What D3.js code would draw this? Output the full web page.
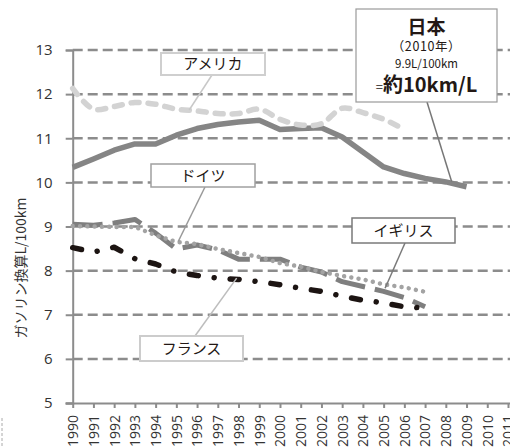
<!DOCTYPE html>
<html>
<head>
<meta charset="utf-8">
<script src="https://cdn.jsdelivr.net/npm/d3@7/dist/d3.min.js"></script>
<style>
  html, body { margin: 0; padding: 0; background: #fff; }
  svg { display: block; }
  .jp { font-family: "Noto Sans CJK JP", "Noto Sans", sans-serif; }
  .num { font-family: "Open Sans", "Liberation Sans", sans-serif; }
</style>
</head>
<body>
<script>
// Fuel consumption (gasoline-equivalent L/100km), 1990-2011
const years = d3.range(1990, 2012);
const yTicks = [5, 6, 7, 8, 9, 10, 11, 12, 13];

const japan   = [10.34, 10.53, 10.73, 10.87, 10.87, 11.07, 11.22, 11.31, 11.37, 11.41,
                 11.20, 11.22, 11.24, 11.03, 10.69, 10.35, 10.20, 10.09, 10.01, 9.9];
const america = [12.13, 11.66, 11.72, 11.81, 11.77, 11.66, 11.62, 11.56, 11.56, 11.66,
                 11.43, 11.30, 11.33, 11.68, 11.58, 11.43, 11.20];
const germany = [9.05, 9.03, 9.08, 9.16, 8.85, 8.49, 8.58, 8.47, 8.26, 8.26,
                 8.26, 8.08, 7.97, 7.75, 7.64, 7.53, 7.39, 7.18];
const uk      = [9.01, 9.00, 8.99, 8.99, 8.80, 8.65, 8.60, 8.49, 8.40, 8.31,
                 8.17, 8.09, 7.97, 7.88, 7.80, 7.69, 7.62, 7.52];
const france  = [8.52, 8.42, 8.53, 8.27, 8.15, 7.97, 7.89, 7.83, 7.80, 7.75,
                 7.68, 7.60, 7.53, 7.42, 7.33, 7.27, 7.18, 7.15];

const W = 510, H = 448;
const plot = { left: 72.7, right: 508, top: 50, bottom: 403 };

const svg = d3.select("body").append("svg").attr("width", W).attr("height", H);

const x = d3.scaleLinear().domain([1990, 2011]).range([plot.left, plot.right]);
const y = d3.scaleLinear().domain([5, 13]).range([plot.bottom, plot.top]);

const gridColor = "#8c8c8c";

// dashed horizontal gridlines
svg.append("g").selectAll("line")
  .data(yTicks.filter(v => v > 5))
  .join("line")
  .attr("x1", plot.left).attr("x2", W)
  .attr("y1", d => y(d)).attr("y2", d => y(d))
  .attr("stroke", gridColor).attr("stroke-width", 2.5)
  .attr("stroke-dasharray", "10 5");

// y axis
const yAxis = svg.append("g")
  .attr("transform", `translate(${plot.left},0)`)
  .call(d3.axisLeft(y).tickValues(yTicks).tickSize(7).tickPadding(13).tickFormat(d3.format("d")));
yAxis.select(".domain").attr("stroke", gridColor).attr("stroke-width", 2);
yAxis.selectAll(".tick line").attr("stroke", gridColor).attr("stroke-width", 2);
yAxis.selectAll("text").attr("class", "num").attr("font-size", 15).attr("fill", "#333");

// x axis
const xAxis = svg.append("g")
  .attr("transform", `translate(0,${plot.bottom})`)
  .call(d3.axisBottom(x).tickValues(years).tickSize(5).tickFormat(d3.format("d")));
xAxis.select(".domain").attr("stroke", gridColor).attr("stroke-width", 2)
  .attr("d", `M${plot.left - 7},0.5H${W}`);
xAxis.selectAll(".tick line").attr("stroke", gridColor).attr("stroke-width", 2);
xAxis.selectAll("text")
  .attr("class", "num").attr("font-size", 14).attr("fill", "#333")
  .attr("text-anchor", "end")
  .attr("transform", "rotate(-90)")
  .attr("x", -12).attr("y", 0).attr("dy", "0.35em");

// y axis title
svg.append("text")
  .attr("class", "jp")
  .attr("transform", "translate(21,268) rotate(-90)")
  .attr("text-anchor", "middle").attr("dy", "0.35em")
  .attr("font-size", 14).attr("fill", "#333")
  .text("ガソリン換算L/100km");

// small dashed edge at the lower left
svg.append("line")
  .attr("x1", 2).attr("x2", 2).attr("y1", 418).attr("y2", H)
  .attr("stroke", "#aaa").attr("stroke-width", 1).attr("stroke-dasharray", "3 2");

// series lines
const series = [
  { name: "日本",    values: japan,   color: "#858585", width: 5.5, dash: null,           cap: "butt",  curve: d3.curveLinear },
  { name: "アメリカ", values: america, color: "#d3d3d3", width: 5.5, dash: "8 9",          cap: "round", curve: d3.curveCatmullRom.alpha(0.5) },
  { name: "ドイツ",  values: germany, color: "#7f7f7f", width: 5,   dash: "30 10",        cap: "butt",  curve: d3.curveLinear },
  { name: "イギリス", values: uk,      color: "#a3a3a3", width: 4.5, dash: "0.01 7.3",     cap: "round", curve: d3.curveLinear },
  { name: "フランス", values: france,  color: "#1c1412", width: 5.5, dash: "9 16 0.01 16", cap: "round", curve: d3.curveLinear }
];

series.forEach(s => {
  const pts = s.values.map((v, i) => [years[i], v]);
  const line = d3.line().x(d => x(d[0])).y(d => y(d[1])).curve(s.curve);
  svg.append("path")
    .datum(pts)
    .attr("d", line)
    .attr("fill", "none")
    .attr("stroke", s.color)
    .attr("stroke-width", s.width)
    .attr("stroke-linecap", s.cap)
    .attr("stroke-linejoin", "round")
    .attr("stroke-dasharray", s.dash);
});

// callout labels: box layout in pixels, leader target in data units
const callouts = [
  { text: "アメリカ", box: [161, 53, 104, 22], from: [212, 75],  to: [1995.62, 11.64], border: "#cfcfcf", bw: 2,   leader: "#c8c8c8" },
  { text: "ドイツ",  box: [151, 164, 104, 23], from: [205, 187], to: [1995.09, 8.66],  border: "#a0a0a0", bw: 1.5, leader: "#9a9a9a" },
  { text: "フランス", box: [140, 336, 103, 25], from: [195, 336], to: [1997.91, 7.83],  border: "#cccccc", bw: 2,   leader: "#bdbdbd" },
  { text: "イギリス", box: [352, 218, 103, 25], from: [405, 243], to: [2005.07, 7.60],  border: "#7a7a7a", bw: 1.5, leader: "#7a7a7a" }
];

callouts.forEach(c => {
  svg.append("line")
    .attr("x1", c.from[0]).attr("y1", c.from[1])
    .attr("x2", x(c.to[0])).attr("y2", y(c.to[1]))
    .attr("stroke", c.leader).attr("stroke-width", 1.5);
  svg.append("rect")
    .attr("x", c.box[0]).attr("y", c.box[1])
    .attr("width", c.box[2]).attr("height", c.box[3])
    .attr("fill", "#fff").attr("stroke", c.border).attr("stroke-width", c.bw);
  svg.append("text")
    .attr("class", "jp")
    .attr("x", c.box[0] + c.box[2] / 2).attr("y", c.box[1] + c.box[3] / 2)
    .attr("text-anchor", "middle").attr("dy", "0.36em")
    .attr("font-size", 15).attr("fill", "#231815")
    .text(c.text);
});

// Japan callout
const jbox = [356, 9, 141, 93];
svg.append("line")
  .attr("x1", 427).attr("y1", jbox[1] + jbox[3])
  .attr("x2", x(2008.28)).attr("y2", y(10.02))
  .attr("stroke", "#777").attr("stroke-width", 1.5);
svg.append("rect")
  .attr("x", jbox[0]).attr("y", jbox[1]).attr("width", jbox[2]).attr("height", jbox[3])
  .attr("fill", "#fff").attr("stroke", "#9a9a9a").attr("stroke-width", 1.2);

const jcx = jbox[0] + jbox[2] / 2;
const jt = svg.append("g").attr("class", "jp").attr("fill", "#231815").attr("text-anchor", "middle");
jt.append("text").attr("x", jcx).attr("y", 34).attr("font-size", 19).attr("font-weight", "bold").text("日本");
jt.append("text").attr("x", jcx).attr("y", 51).attr("font-size", 12.5)
  .attr("letter-spacing", 0.6).text("（2010年）");
jt.append("text").attr("x", jcx).attr("y", 68).attr("font-size", 11.5).text(`${japan[japan.length - 1]}L/100km`);
const last = jt.append("text").attr("x", jcx).attr("y", 92);
last.append("tspan").attr("font-size", 13).text("=");
last.append("tspan").attr("font-size", 20).attr("font-weight", "bold").text("約10km/L");
</script>
</body>
</html>
